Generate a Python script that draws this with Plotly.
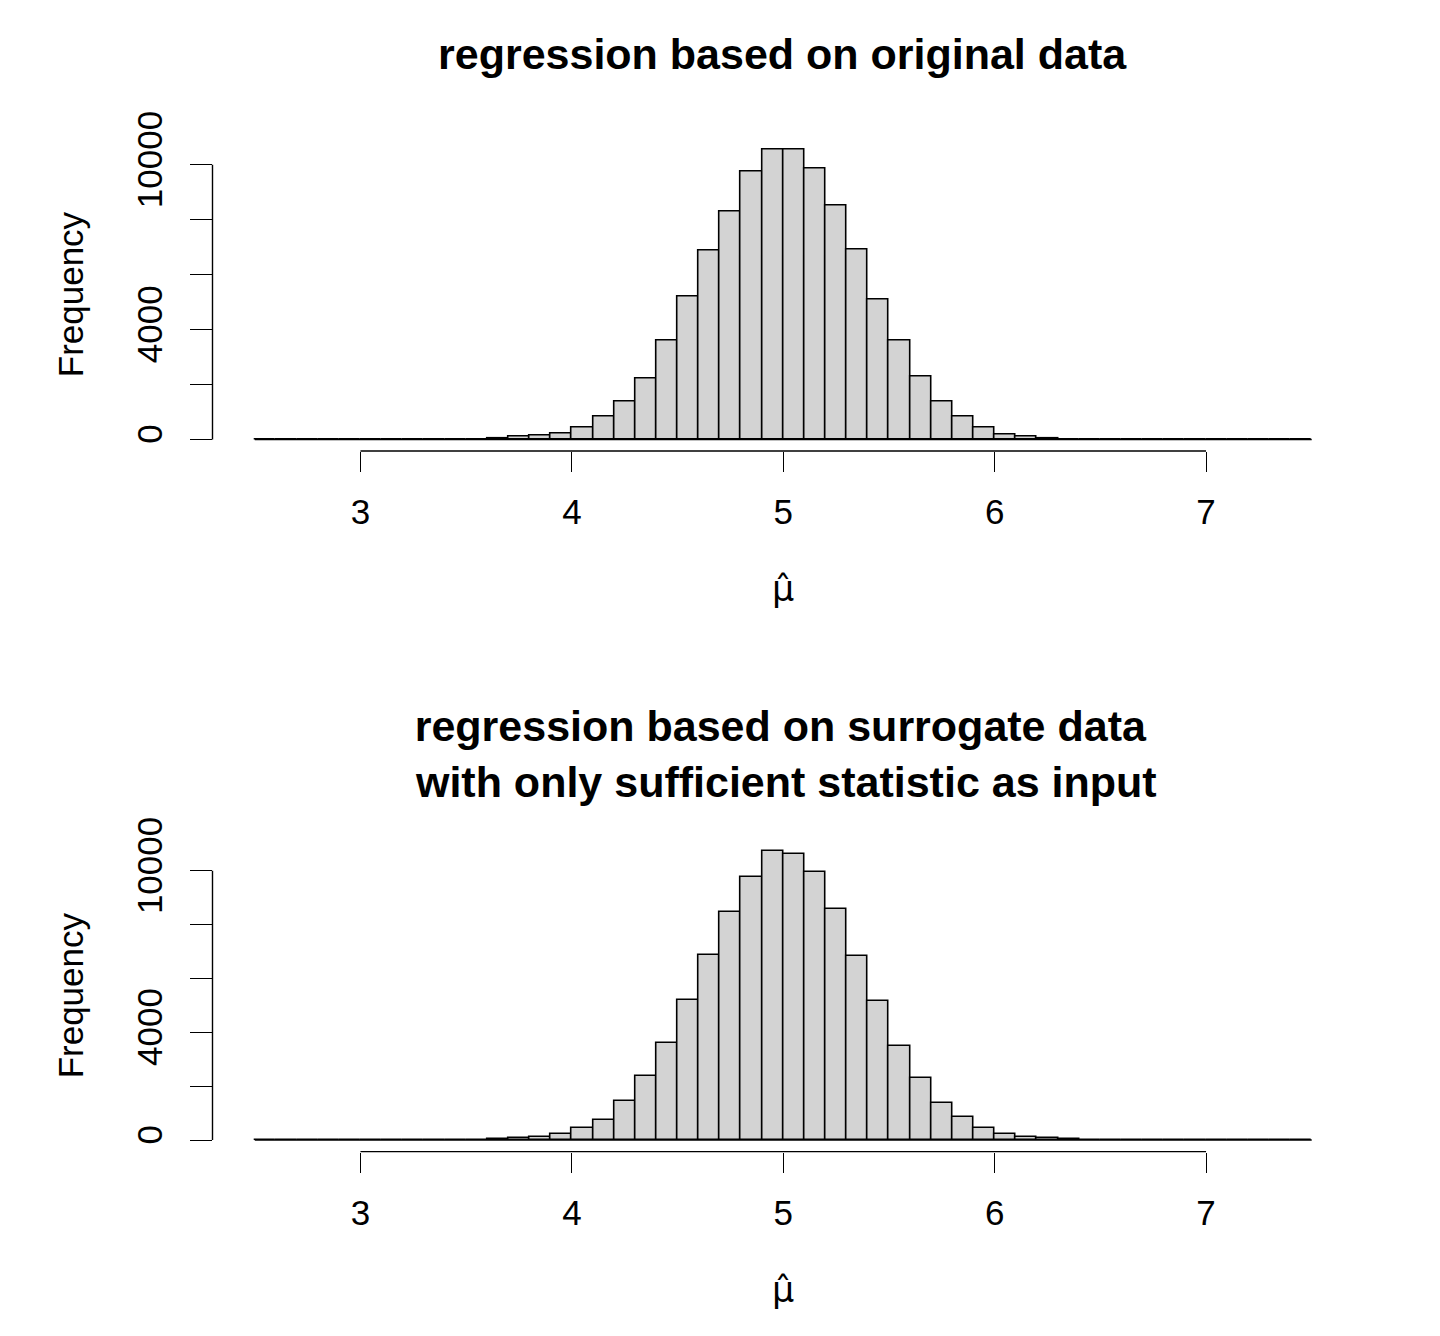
import plotly.graph_objects as go

# ---- data -------------------------------------------------------------
bin_left = [round(2.5 + 0.1 * i, 1) for i in range(50)]   # bin left edges 2.5 .. 7.4
bin_width = 0.1

counts_original = [
    0, 0, 0, 0, 0, 0, 0, 0, 0,                # 2.5 .. 3.3
    2, 8, 28, 90, 145, 218,                   # 3.4 .. 3.9
    423, 849, 1370, 2222, 3617, 5220, 6896, 8292, 9750, 10560,   # 4.0 .. 4.9
    10570, 9860, 8499, 6921, 5100, 3617, 2281, 1370, 849, 423,   # 5.0 .. 5.9
    193, 95, 36, 12, 3,                       # 6.0 .. 6.4
    0, 0, 0, 0, 0, 0, 0, 0, 0, 0,             # 6.5 .. 7.4
]
counts_surrogate = [
    0, 0, 0, 0, 0, 0, 0, 0, 0,
    2, 8, 25, 62, 124, 223,
    433, 743, 1460, 2376, 3590, 5199, 6870, 8478, 9755, 10743,
    10620, 9963, 8578, 6832, 5173, 3490, 2290, 1362, 866, 433,
    223, 124, 62, 20, 5,
    0, 0, 0, 0, 0, 0, 0, 0, 0, 0,
]

x_ticks = [3, 4, 5, 6, 7]
x_ticktext = ["3", "4", "5", "6", "7"]
y_ticks = [0, 2000, 4000, 6000, 8000, 10000]
y_ticktext = ["0", "", "4000", "", "", "10000"]

title_top = "regression based on original data"
title_bottom = "regression based on surrogate data<br> with only sufficient statistic as input"
x_label = "μ\u0302"
y_label = "Frequency"

# ---- figure -----------------------------------------------------------
OFF = 8                     # browser body margin
W, H = 1440 - 2 * OFF, 1336 - 2 * OFF
FONT = "Liberation Sans, Arial, Helvetica, sans-serif"
LABEL_FONT = "DejaVu Sans"
BAR_FILL = "#d3d3d3"
INK = "#000000"

def fx(px):  # window pixel from left -> paper fraction
    return (px - OFF) / W

def fy(px):  # window pixel from top -> paper fraction
    return 1 - (px - OFF) / H

centers = [b + bin_width / 2 for b in bin_left]
edges_lo, edges_hi = bin_left[0], bin_left[-1] + bin_width

fig = go.Figure()
panels = [
    (counts_original, "x", "y", (137.5, 451.0)),
    (counts_surrogate, "x2", "y2", (839.1, 1151.6)),
]
for counts, xa, ya, _ in panels:
    fig.add_trace(go.Bar(
        x=centers, y=counts, width=bin_width,
        marker=dict(color=BAR_FILL, line=dict(color=INK, width=1.6)),
        xaxis=xa, yaxis=ya, showlegend=False, hoverinfo="x+y",
    ))
    # zero-height bars in R still draw their outline -> baseline over full break range
    fig.add_trace(go.Scatter(
        x=[edges_lo, edges_hi], y=[0, 0], mode="lines",
        line=dict(color=INK, width=1.5), xaxis=xa, yaxis=ya,
        showlegend=False, hoverinfo="skip",
    ))

x_dom = [fx(212.5), fx(1354)]
axis_font = dict(family=FONT, size=35, color=INK)

layout = dict(
    width=W, height=H,
    margin=dict(l=0, r=0, t=0, b=0, pad=0, autoexpand=False),
    paper_bgcolor="white", plot_bgcolor="white",
    bargap=0, font=dict(family=FONT, color=INK),
    annotations=[], shapes=[],
)

for i, (counts, xa, ya, (ptop, pbot)) in enumerate(panels):
    ymax = max(counts)
    xkey = "xaxis" if i == 0 else "xaxis2"
    ykey = "yaxis" if i == 0 else "yaxis2"
    layout[xkey] = dict(
        domain=x_dom, range=[2.3, 7.7], anchor=ya,
        tickvals=x_ticks, ticktext=x_ticktext,
        ticks="outside", ticklen=20, tickwidth=1.4, tickcolor=INK,
        ticklabelstandoff=10,
        showline=False, showgrid=False, zeroline=False,
        tickfont=axis_font,
    )
    layout[ykey] = dict(
        domain=[fy(pbot), fy(ptop)], range=[-0.04 * ymax, 1.04 * ymax], anchor=xa,
        tickvals=y_ticks, ticktext=y_ticktext, tickangle=-90,
        ticks="outside", ticklen=22, tickwidth=1.4, tickcolor=INK,
        ticklabelstandoff=14,
        showline=False, showgrid=False, zeroline=False,
        tickfont=axis_font,
    )
    # R-style axis lines spanning only first..last tick
    layout["shapes"].append(dict(
        type="line", xref=xa, yref=f"{ya} domain",
        x0=x_ticks[0], x1=x_ticks[-1], y0=0, y1=0,
        line=dict(color=INK, width=1.4),
    ))
    layout["shapes"].append(dict(
        type="line", xref=f"{xa} domain", yref=ya,
        x0=0, x1=0, y0=y_ticks[0], y1=y_ticks[-1],
        line=dict(color=INK, width=1.4),
    ))
    # y label
    layout["annotations"].append(dict(
        text=y_label, textangle=-90, xref="paper", yref="paper",
        x=fx(70), y=fy((ptop + pbot) / 2), xanchor="center", yanchor="middle",
        showarrow=False, font=dict(family=FONT, size=35, color=INK),
    ))
    # x label: mu-hat
    layout["annotations"].append(dict(
        text=x_label, xref="paper", yref="paper",
        x=fx(783), y=fy(pbot + 138), xanchor="center", yanchor="middle",
        showarrow=False, font=dict(family=LABEL_FONT, size=35, color=INK),
    ))

layout["annotations"].append(dict(
    text=f"<b>{title_top}</b>", xref="paper", yref="paper",
    x=fx(782), y=fy(54), xanchor="center", yanchor="middle",
    showarrow=False, font=dict(family=FONT, size=43, color=INK),
))
layout["annotations"].append(dict(
    text=f"<b>{title_bottom}</b>", xref="paper", yref="paper",
    x=fx(780), y=fy(754), xanchor="center", yanchor="middle",
    showarrow=False, font=dict(family=FONT, size=43, color=INK),
))

fig.update_layout(**layout)
fig.write_html("out.html")
